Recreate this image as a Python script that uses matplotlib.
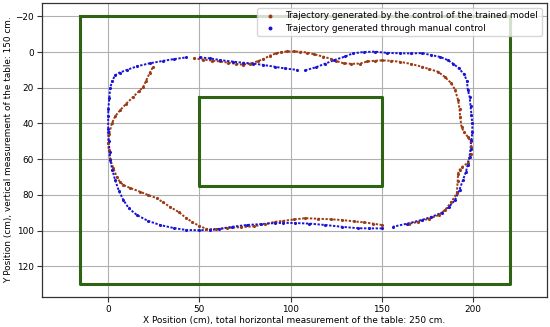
import numpy as np
import matplotlib
matplotlib.use("Agg")
import matplotlib.pyplot as plt

nan = np.nan

# Manual-control trajectory (blue), NaN marks gaps in the recorded path
blue_x = [0.2, 0.2, 0.3, 0.8, 1.3, 2.5, 4, 6.5, 10.5, 16, 23, 30, 36, 43, nan,
          50.5, 56, 61.5, 68.6, 74, 79.6, 85, 91.6, 97, 103.6, nan,
          108, 114, 119, 124, 130, 134, 140, 146, 153, 160, 166, 172, 177, 182, 186, 189, 192,
          195, 196.5, 197, 198, 198.5, 199, 199.5, 199.5, 199, 198.5, 198, 197, 196, 194.4,
          192.5, 190, 186.5, 182.7, 177, 171.8, 164, 156, nan,
          150, 143, 137, 128, 119, 110, 102.5, 96, 91.6, 84, 76, 68, 61, 56, 50, 43, 36,
          28.6, 22, 15.9, 11.5, 8.5, 6, 4, 2.5, 1.3, 1, 0.5, 0.2]
blue_y = [43, 36, 32, 26, 20, 16, 13, 11.5, 10, 8, 6.3, 5, 4, 3, nan,
          3, 3.6, 4.5, 5.4, 6, 6.5, 7.2, 8.3, 9.2, 10, nan,
          10.3, 8.5, 6.5, 4.5, 2.5, 0.8, 0, -0.2, 0.5, 0.7, 0.8, 0.6, 1.7, 2.8, 4.5, 6.5, 9,
          12.5, 16, 21, 25, 30, 35, 40, 45, 49, 54, 58.7, 63, 67, 71.6,
          77, 82.8, 87, 90, 92.3, 94, 96, 97.8, nan,
          98.7, 98.7, 98.6, 97.8, 96.8, 96, 95.7, 95.6, 95.7, 96.3, 96.8, 97.8, 99, 99.6, 99.7, 99.6, 98.5,
          96.8, 94.5, 91.2, 87.5, 82.8, 77.5, 71.6, 66, 60.4, 56, 50, 45]

# Trained-model trajectory (red)
red_x = [47, 52, 57, 61.5, 66, 70, 74, 78, 82, 85, 88.8, 92, 95, 98, 102, 105, 109, 113,
         118, 122, 125, 129, 133, 138, 142, 146, 150, 155, 160, 166, 171.8, 176, 180.7,
         184.5, 188, 190, 191.7, 192.5, 192.8, 193.6, 195, 197, 198.5, 199, 198.5, 197, 194,
         192.5, 191.7, 191.5, 191, 188, 184.6, 181, 176, 170, 165, nan,
         150, 145, 140, 135, 128, 122, 115, 108, 102, 96, 91.6, 86, 80, 73, 65, 59, 54, 50,
         46, 43, 39, 34, 30, 26.8, 22, 17.7, 12, 8.5, 6.5, 4.9, 3, 1.3, 0.5, 0.2, 0.7, 2.2,
         4, 6.8, 10, 14, 17, 19.4, 21, 23, 24.8]
red_y = [3.5, 4.2, 4.8, 5.3, 6, 6.6, 7.1, 6.5, 5.2, 4, 2, 0.8, 0, -0.3, -0.3, -0.2, 0.3, 1.3,
         2.6, 3.8, 5, 6.3, 6.6, 6.5, 5.3, 4.9, 4.7, 4.9, 5.5, 6.7, 8.2, 9.6, 11,
         14, 17.5, 21, 26.9, 32, 36.2, 42, 45, 47.4, 50, 53, 57, 62, 64.3,
         66, 68, 72, 79, 84, 88.4, 91.3, 93.2, 95, 96.1, nan,
         96.8, 96, 95.3, 94.8, 94, 93.6, 93.3, 93, 93.7, 94.5, 95, 96.3, 97.5, 98, 98.5, 99.2, 99, 97.3,
         95, 93, 89.7, 86.6, 84, 81.8, 80, 78.2, 76, 74.4, 72.5, 69.8, 65, 60, 55, 51, 46, 40,
         36, 32.5, 29, 25, 22, 19.5, 16, 11.5, 8.3]

# Table outline and central obstacle (cm)
outer_x = [-15, 220, 220, -15, -15]
outer_y = [-20, -20, 130, 130, -20]
inner_x = [50, 150, 150, 50, 50]
inner_y = [25, 25, 75, 75, 25]

red_c = "#9c3b14"
blue_c = "#1a14d8"
green_c = "#2d6312"

fs = 6.4

fig = plt.figure(figsize=(5.5, 3.27), dpi=100)
ax = fig.add_axes([0.0764, 0.0917, 0.9176, 0.899])

ax.plot(outer_x, outer_y, color=green_c, lw=2.2, zorder=2)
ax.plot(inner_x, inner_y, color=green_c, lw=2.2, zorder=2)

ax.plot(red_x, red_y, color=red_c, lw=1.4, ls=(0, (1.2, 0.8)), zorder=3)
ax.plot(blue_x, blue_y, color=blue_c, lw=1.4, ls=(0, (1.2, 0.8)), zorder=3)
ax.scatter(red_x, red_y, s=1.5, color=red_c, zorder=4,
           label="Trajectory generated by the control of the trained model")
ax.scatter(blue_x, blue_y, s=1.5, color=blue_c, zorder=4,
           label="Trajectory generated through manual control")

ax.set_xlim(-36, 240.2)
ax.set_ylim(137.1, -27.4)
ax.set_xticks([0, 50, 100, 150, 200])
ax.set_yticks([-20, 0, 20, 40, 60, 80, 100, 120])
ax.grid(True, color="#b0b0b0", lw=0.8)
ax.set_axisbelow(True)
ax.tick_params(labelsize=fs, length=3.5, color="#333333", pad=2.5)
for s in ax.spines.values():
    s.set_color("#333333")
    s.set_linewidth(0.9)

ax.set_xlabel("X Position (cm), total horizontal measurement of the table: 250 cm.",
              fontsize=fs, labelpad=1.5)
ax.set_ylabel("Y Position (cm), vertical measurement of the table: 150 cm.",
              fontsize=fs, labelpad=1.5)

ax.legend(loc="upper right", fontsize=fs, markerscale=1.5,
          labelspacing=0.35, borderaxespad=0.55)

fig.savefig("out.png", dpi=100)
